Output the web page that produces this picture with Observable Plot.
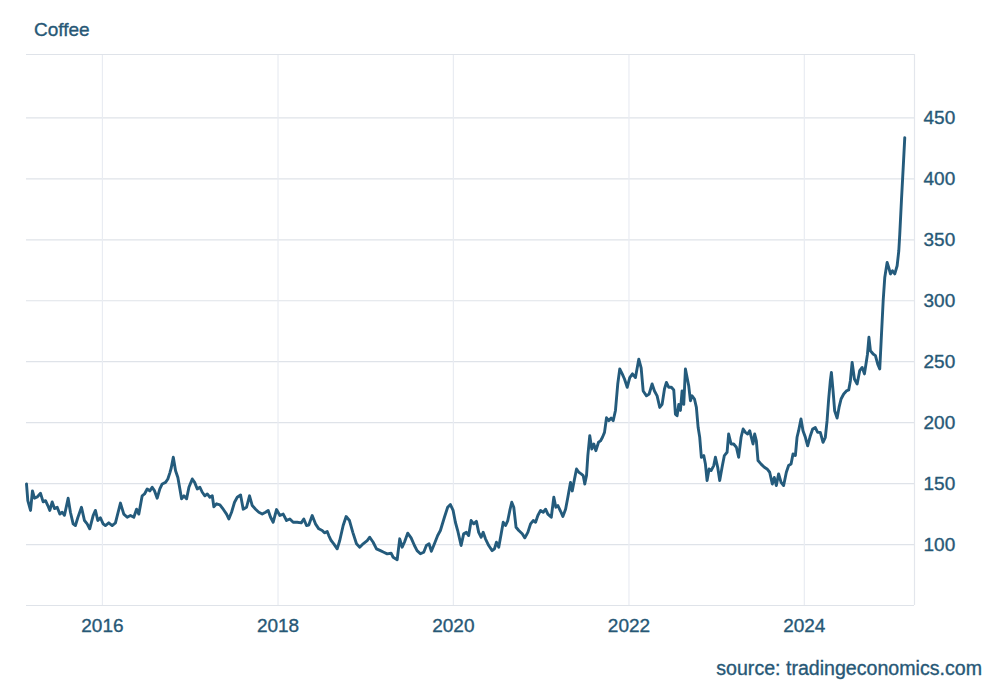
<!DOCTYPE html>
<html><head><meta charset="utf-8">
<script src="https://cdn.jsdelivr.net/npm/d3@7"></script>
<script src="https://cdn.jsdelivr.net/npm/@observablehq/plot@0.6"></script>
<style>
body{margin:0;background:#fff;font-family:"Liberation Sans",Arial,sans-serif;}
#wrap{width:1000px;height:700px;position:relative;overflow:hidden;}
#title{height:44px;box-sizing:border-box;padding:19px 0 0 34px;font-size:19px;line-height:22px;color:#275876;-webkit-text-stroke:0.35px #275876;}
#chart{height:600px;}
#caption{box-sizing:border-box;padding:13px 18px 0 0;text-align:right;font-size:19.6px;line-height:22px;color:#275876;-webkit-text-stroke:0.35px #275876;}
#chart svg text{stroke:#275876;stroke-width:0.35px;}
</style></head>
<body>
<div id="wrap">
<div id="title">Coffee</div>
<div id="chart"></div>
<div id="caption">source: tradingeconomics.com</div>
</div>
<script>
const years = [2015.134,2015.149,2015.180,2015.202,2015.225,2015.256,2015.294,2015.324,2015.351,2015.377,2015.400,2015.427,2015.453,2015.484,2015.514,2015.541,2015.567,2015.609,2015.635,2015.666,2015.692,2015.719,2015.761,2015.795,2015.826,2015.855,2015.894,2015.920,2015.947,2015.977,
2016.008,2016.034,2016.072,2016.111,2016.148,2016.205,2016.243,2016.282,2016.319,2016.357,2016.388,2016.414,2016.452,2016.479,2016.509,2016.539,2016.566,2016.593,2016.623,2016.653,2016.680,2016.718,2016.744,2016.767,2016.783,2016.806,2016.832,2016.858,2016.881,2016.900,2016.927,2016.957,2016.984,
2017.022,2017.049,2017.079,2017.109,2017.136,2017.166,2017.193,2017.223,2017.250,2017.268,2017.299,2017.337,2017.375,2017.413,2017.439,2017.470,2017.504,2017.535,2017.573,2017.603,2017.641,2017.675,2017.706,2017.744,2017.781,2017.820,2017.858,2017.888,2017.915,2017.945,2017.983,
2018.021,2018.059,2018.097,2018.135,2018.173,2018.219,2018.265,2018.294,2018.325,2018.351,2018.390,2018.427,2018.465,2018.504,2018.530,2018.561,2018.579,2018.606,2018.636,2018.675,2018.704,2018.743,2018.777,2018.815,2018.853,2018.895,2018.932,2018.971,
2019.017,2019.046,2019.085,2019.123,2019.168,2019.206,2019.245,2019.290,2019.313,2019.359,2019.388,2019.416,2019.442,2019.479,2019.518,2019.556,2019.586,2019.624,2019.662,2019.692,2019.723,2019.749,2019.784,2019.821,2019.852,2019.898,2019.935,2019.966,2019.997,
2020.023,2020.049,2020.088,2020.117,2020.148,2020.174,2020.202,2020.231,2020.262,2020.288,2020.316,2020.339,2020.365,2020.402,2020.441,2020.467,2020.490,2020.516,2020.544,2020.567,2020.593,2020.619,2020.642,2020.664,2020.687,2020.713,2020.744,2020.783,2020.813,2020.847,2020.878,2020.908,2020.935,2020.961,2020.992,
2021.022,2021.049,2021.075,2021.114,2021.143,2021.166,2021.189,2021.220,2021.246,2021.277,2021.303,2021.333,2021.353,2021.379,2021.402,2021.428,2021.455,2021.478,2021.496,2021.516,2021.531,2021.553,2021.576,2021.599,2021.622,2021.653,2021.675,2021.698,2021.721,2021.744,2021.770,2021.797,2021.820,2021.846,2021.872,2021.895,2021.923,2021.949,2021.980,
2022.009,2022.040,2022.074,2022.112,2022.139,2022.162,2022.200,2022.230,2022.264,2022.291,2022.321,2022.351,2022.378,2022.405,2022.427,2022.454,2022.484,2022.511,2022.530,2022.549,2022.568,2022.587,2022.606,2022.625,2022.644,2022.663,2022.682,2022.701,2022.720,2022.747,2022.769,2022.789,2022.807,2022.826,2022.853,2022.872,2022.891,2022.914,2022.937,2022.967,2022.986,
2023.012,2023.035,2023.062,2023.088,2023.119,2023.137,2023.165,2023.194,2023.225,2023.251,2023.279,2023.302,2023.328,2023.354,2023.377,2023.396,2023.415,2023.434,2023.453,2023.472,2023.507,2023.544,2023.575,2023.605,2023.635,2023.658,2023.681,2023.707,2023.735,2023.764,2023.795,2023.821,2023.849,2023.871,2023.898,2023.917,2023.935,2023.962,2023.985,
2024.012,2024.038,2024.069,2024.095,2024.125,2024.152,2024.182,2024.213,2024.239,2024.259,2024.277,2024.296,2024.308,2024.327,2024.345,2024.373,2024.395,2024.418,2024.448,2024.479,2024.505,2024.524,2024.544,2024.570,2024.601,2024.630,2024.658,2024.684,2024.707,2024.718,2024.735,2024.752,2024.783,2024.809,2024.835,2024.858,2024.874,2024.897,2024.915,2024.942,2024.965,2024.980,
2025.003,2025.029,2025.056,2025.075,2025.086,2025.105,2025.125,2025.143];
const prices = [149.7,136,128,144,138,139,142,135,136,132,128,135,129.5,130.6,125,126.5,124,138,126.5,117,115.6,122,130.6,119.7,117,112.9,123.8,128,119.7,122,
117,115.6,117.8,115.6,117.8,134,125,122.4,123.8,122.4,129,125,140,141.5,145.6,144,147,144,138,145.6,149.7,151,153.8,158.8,163,171.6,160.6,155,145.6,137.5,140,137.5,147,
153.8,151,145.6,147,142.9,140,141.5,138.8,140,131,133.4,132.5,129,125,121,126.5,134.7,138.8,140.7,129,130.6,140,132,129,126.5,125,126.5,128,122.4,118.3,128.7,
123.8,125,119.7,121,118.3,118.3,117.8,121,115.6,116,123.8,117,112.9,111.5,109.6,110.7,107.4,103.3,100.6,96.5,103.3,115.6,123,119.7,110,100.6,97.8,100.6,
103.3,106,101.9,96.5,95,93.7,92.4,92.9,89.6,87.5,104.7,97.8,101.9,109.3,105.5,99.2,95,92.4,93.7,99.2,100.6,94.5,100.6,107.4,111.5,122.4,130.6,132.8,128,
118.3,111.5,99.2,108.8,110,107.4,119.7,117,119,110,106,110,104.7,99.2,95,96.5,101.9,97.8,108.8,118.3,115.6,119.7,128,134.7,130.6,114.2,111.5,108.8,105.5,110,117,119.7,118.3,123.8,128,
126.5,129,125,122.4,138.8,130.6,132,127.3,123,129,138.8,151,144,153.8,162,159.3,158,156.6,149.7,156.6,173,189.3,178.4,182.5,177,183.9,185,188,192,204,201.6,203.8,201.6,210,231.7,244,240,235.8,229,
237,240,237,252,245,226,222,223.5,231.7,226,222,212.5,215,227.6,233,229,229,226.8,207,205.7,215,210,226,215,244,237,230,218,222,219.4,212.5,196,188,171.6,173,166,152.5,162,160.7,164.8,171.6,
163.4,152.5,163.4,173,175.7,190.7,182.5,182.5,179.8,171.6,188,194.8,192,190.7,193.4,188,182.5,190.7,185,168.9,166,163.4,162,159.3,149.7,155,148.4,158,151,148.4,159.3,164.8,166,174.3,173,188,193.4,203,193.4,
188,181,189.3,194.8,196,192,192,183.9,188,201.6,219.4,234.4,241.2,226,209.8,203.8,212.5,219.4,223.5,226,226.8,234.4,249.4,235.8,231.7,242.6,245.3,240,250.8,256,270,259,256.3,255,248,244,267,300,319,331.4,326,322,
324.6,322,328.7,341,354.7,382,409,433.8];
const xStartYear = 2015.134, xEndYear = 2025.254;
const yDomain = [50, 502];
const yTicks = [100, 150, 200, 250, 300, 350, 400, 450];
const tickYears = [2016, 2018, 2020, 2022, 2024];

const toDate = t => { const y = Math.floor(t); const s = Date.UTC(y,0,1), e = Date.UTC(y+1,0,1); return new Date(s + (t - y) * (e - s)); };
const data = years.map((t, i) => ({date: toDate(t), price: prices[i]}));
const xDomain = [toDate(xStartYear), toDate(xEndYear)];
const xTicks = tickYears.map(y => new Date(Date.UTC(y, 0, 1)));
const textColor = "#275876";

const chart = Plot.plot({
  width: 1000, height: 600,
  marginTop: 10, marginBottom: 39, marginLeft: 26, marginRight: 86,
  style: {fontFamily: "'Liberation Sans', Arial, sans-serif", fontSize: "19px", color: textColor, background: "#fff"},
  x: {type: "utc", domain: xDomain},
  y: {domain: yDomain},
  marks: [
    Plot.gridY(yTicks, {stroke: "#dfe3e9", strokeOpacity: 1, strokeWidth: 1.2}),
    Plot.gridX(xTicks, {stroke: "#e9ecf2", strokeOpacity: 1, strokeWidth: 1.2}),
    Plot.ruleY([yDomain[1]], {stroke: "#dfe3e9", strokeWidth: 1.2}),
    Plot.ruleY([yDomain[0]], {stroke: "#dfe3e9", strokeWidth: 1.2}),
    Plot.ruleX([xDomain[1]], {stroke: "#e3e6ec", strokeWidth: 1.2}),
    Plot.axisX(xTicks, {tickSize: 0, tickPadding: 13, tickFormat: d3.utcFormat("%Y"), label: null, fill: textColor}),
    Plot.axisY(yTicks, {anchor: "right", tickSize: 0, tickPadding: 9, label: null, fill: textColor}),
    Plot.lineY(data, {x: "date", y: "price", stroke: "#245b7c", strokeWidth: 2.9, strokeLinejoin: "round"})
  ]
});
document.getElementById("chart").appendChild(chart);
</script>
</body></html>
